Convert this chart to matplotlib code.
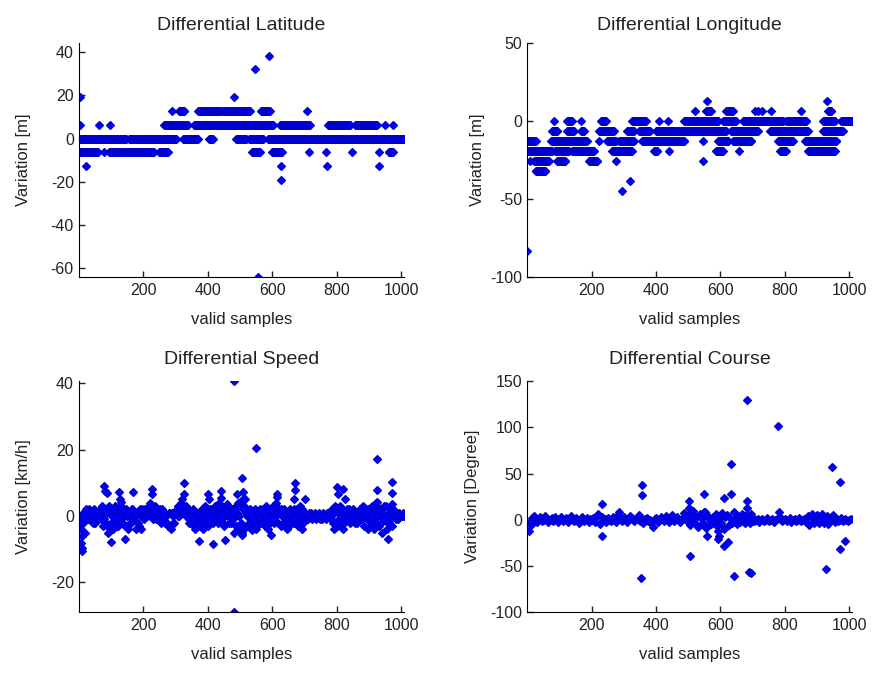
import numpy as np
import matplotlib
matplotlib.use('Agg')
import matplotlib.pyplot as plt

plt.rcParams['font.family'] = ['Liberation Sans', 'DejaVu Sans']
plt.rcParams['axes.unicode_minus'] = False

# --- latitude: quantised levels [m] and the sample spans sitting on each level
lat_levels = [38.4, 32.0, 19.2, 12.8, 6.4, 0.0, -6.4, -12.8, -19.2, -64.0]
lat_spans = [
    [(591, 591)],
    [(547, 547)],
    [(3, 3), (482, 482)],
    [(290, 290), (311, 327), (368, 440), (448, 531), (564, 593), (707, 707)],
    [(3, 3), (63, 63), (96, 96), (265, 337), (358, 603), (624, 717), (774, 842),
     (857, 924), (950, 950), (976, 976)],
    [(1, 146), (156, 301), (322, 368), (404, 415), (487, 520), (528, 572), (588, 1009)],
    [(1, 58), (78, 78), (94, 130), (135, 233), (249, 275), (536, 562), (598, 629),
     (715, 715), (767, 767), (847, 847), (930, 930), (961, 976)],
    [(21, 21), (626, 626), (769, 769), (930, 930)],
    [(626, 626)],
    [(557, 557)],
]

# --- longitude
lon_levels = [12.8, 6.4, 0.0, -6.4, -12.8, -19.2, -25.6, -32.0, -38.4, -44.8, -83.2]
lon_spans = [
    [(559, 559), (931, 931)],
    [(521, 521), (557, 572), (619, 640), (707, 707), (717, 717), (728, 728),
     (758, 758), (852, 852), (935, 945)],
    [(83, 83), (125, 140), (166, 166), (228, 244), (326, 368), (409, 409), (437, 437),
     (487, 593), (608, 650), (671, 795), (805, 867), (919, 955), (976, 1009)],
    [(78, 94), (125, 145), (166, 176), (223, 270), (311, 332), (347, 383), (399, 619),
     (634, 717), (753, 872), (919, 981)],
    [(1, 26), (73, 187), (223, 223), (249, 275), (285, 332), (357, 487), (546, 546),
     (593, 624), (640, 696), (779, 826), (862, 960)],
    [(1, 78), (88, 130), (140, 207), (264, 326), (394, 404), (440, 440), (588, 608),
     (658, 658), (784, 805), (872, 955)],
    [(10, 10), (21, 68), (93, 119), (192, 218), (275, 275), (546, 546)],
    [(26, 57)],
    [(319, 319)],
    [(295, 295)],
    [(1, 1)],
]

# --- speed [km/h]: values read at every 5th sample (two interleaved reads),
#     plus the stray points
band_xa = np.arange(1, 1010, 5)
band_xb = np.arange(3, 1010, 5)
speed_band_a = [
    0, -4, -2, 1, -1, 1, 2, -1, 0, 1, -2, 1, 0, 2, 3, -1, 1, -3, -5, 2,
    2, -4, 3, 0, -3, 1, 3, -2, 0, 2, -4, 1, -2, 2, -1, -4, 1, -3, 0, 2,
    1, 2, 0, 3, 4, 2, -1, 3, 1, 0, 2, -1, 1, -2, 0, -3, 1, -4, 0, -2,
    1, 3, 0, 4, 5, 2, 3, 0, -2, 1, 0, -3, -4, 1, -2, 0, 2, -4, 3, 1,
    -3, 2, 0, -2, 3, 1, -2, 4, 0, 2, -3, 1, 3, -2, 0, 2, -5, 3, 1, -4,
    4, -5, 3, 5, -3, 1, 2, -2, 0, 2, -4, 1, -2, 0, 2, -3, 3, -4, 1, 2,
    3, -2, 4, 1, 2, -3, 0, 2, -1, 1, -3, 2, 0, -2, 1, 2, -3, 3, 0, -2,
    1, 0, -1, 0, 1, 0, 0, -1, 0, 1, 0, -1, 0, 0, 1, 0, -1, 2, -4, 3,
    -3, 2, 3, -2, -4, 1, 2, 0, -2, 1, 2, -2, 0, 1, -1, 2, 3, -3, 1, -4,
    2, -2, 3, -4, 4, 1, -3, 2, -5, 3, 0, -4, 2, 1, -3, 2, 0, 1, -1, 0,
    0, 1,
]
speed_band_b = [
    -2, -6, 1, -1, 2, -1, 0, 1, -2, 2, 0, -1, 1, -1, -3, 2, -2, 1, 3, -2,
    0, 2, -1, -3, 2, -1, 0, 2, -3, 0, 1, -2, 2, -1, 0, 1, -2, 2, -4, 0,
    -1, 0, 2, 1, 3, 0, 2, -1, 0, 1, -2, 2, 0, 1, -2, 1, -3, 1, -2, 1,
    2, 0, 3, 2, 3, 1, 0, 2, -1, -2, 2, -1, 0, -3, 1, -2, -1, 1, -2, 0,
    1, -1, 2, 0, -1, 2, 3, -1, 1, -2, 0, 2, 0, 1, -2, -1, 2, -3, 4, 0,
    -2, 2, -4, 1, 0, -2, 0, 1, -1, -3, 1, -1, 2, -2, 0, 1, -1, 2, -2, 0,
    -1, 1, 0, -2, 1, 2, -2, 0, 1, -2, 1, 0, -1, 2, -2, 0, 1, -1, 2, 1,
    0, 0, 1, 0, -1, 0, 1, 0, 0, -1, 0, 1, 0, -1, 0, 1, 0, -2, 1, -2,
    1, -1, 0, 2, -2, 0, -1, 2, 0, -1, 0, 1, -2, 0, 2, -1, 0, 1, -1, 2,
    -1, 1, -1, 2, -2, 0, 2, -2, 1, -1, 3, -2, 0, -1, 1, 0, -1, 0, 1, 0,
    0, 0,
]
speed_out_x = [6, 8, 10, 20, 77, 80, 88, 99, 125, 127, 130, 143, 168, 228, 228,
               327, 327, 371, 401, 404, 417, 440, 440, 452, 461, 482, 482, 490,
               505, 505, 510, 510, 536, 551, 596, 614, 614, 645, 666, 671, 671,
               691, 702, 800, 805, 821, 826, 924, 924, 924, 960, 971, 971, 971]
speed_out_y = [-8, -9.5, -10.5, -5, 9.2, 7.7, 7, -7.8, 7.2, 5.2, 4.2, -7, 7.3, 8.2, 6.7,
               10, 6.7, -7.5, 6.7, 5.2, -8.4, 7.4, 5.4, -7.3, 3.7, 40.7, -29, 6.6,
               11.4, -5.8, 7.2, 5.2, -4.3, 20.5, -5.6, 6.7, 5.7, -4, 5, 10, 8,
               -3.8, 5, 8.7, 6.7, 8.2, 5.2, 17.2, 8, 4.2, -7, 10.4, 7, 3.7]

# --- course [degree]
course_band = [
    -3, -12, -6, 2, 4, 0, -2, 1, 3, -1, 0, 4, 1, -2, 0, 2, -1, 3, 0, -2,
    1, 3, -1, 0, 2, -2, 1, 4, 0, -1, 2, 0, -3, 1, 3, -1, 0, 2, -2, 1,
    0, 2, -2, 4, 6, -5, 3, 0, 1, -2, 2, 0, -1, 3, 0, -2, 5, 8, 2, -1,
    3, 0, -2, 1, 4, 2, -1, 0, 2, 5, -1, 0, -3, 1, 2, -1, 0, -4, -8, 1,
    2, -2, 0, 3, 1, -1, 4, 0, -2, 2, 5, -1, 1, 3, 0, -2, 1, 7, 3, -1,
    5, -6, 2, 9, -4, 3, -8, 6, 2, -3, 8, -9, 4, 1, -5, 3, -2, 6, -7, 2,
    -4, 7, -10, 3, 5, -6, 2, -3, 8, 1, -5, 4, -2, 6, 0, -3, 5, 2, -4, 6,
    2, -1, 0, 1, -2, 0, 1, -1, 0, 2, -1, 0, 1, -2, 0, 1, 8, 3, -1, 0,
    1, -1, 0, 2, -2, 0, 1, -1, 0, 2, -1, 0, 1, -2, 4, -6, 3, 6, -3, 1,
    5, -4, 2, 6, -3, 1, 4, -5, 0, 3, 5, -2, 1, -1, 0, 2, -1, 1, 0, -1,
    0, 1,
]
course_out_x = [233, 233, 357, 357, 355, 504, 504, 505, 549, 549, 559, 593, 596, 593,
                612, 612, 624, 633, 633, 643, 683, 683, 683, 689, 695, 778, 927,
                947, 971, 971, 987]
course_out_y = [16.9, -18, 37.5, 26.7, -63, 20.5, 12.2, -39, 27.8, 7.9, -18, -12, -18, -21,
                23.4, -28.2, -23.8, 60.2, 27.8, -61.3, 129.5, 20.5, 12.6, -56, -57, 101.7, -52.7,
                56.6, 41.1, -31.8, -22.8]


def expand(levels, spans):
    xs, ys = [], []
    for level, runs in zip(levels, spans):
        for a, b in runs:
            pts = list(range(a, b + 1, 3))
            if pts[-1] != b:
                pts.append(b)
            xs += pts
            ys += [level] * len(pts)
    return xs, ys


lat_x, lat_y = expand(lat_levels, lat_spans)
lon_x, lon_y = expand(lon_levels, lon_spans)

panels = [
    ('Differential Latitude', 'Variation [m]', [lat_x], [lat_y],
     (-64, 44), [-60, -40, -20, 0, 20, 40]),
    ('Differential Longitude', 'Variation [m]', [lon_x], [lon_y],
     (-100, 50), [-100, -50, 0, 50]),
    ('Differential Speed', 'Variation [km/h]',
     [band_xa, band_xb, speed_out_x], [speed_band_a, speed_band_b, speed_out_y],
     (-29, 40.7), [-20, 0, 20, 40]),
    ('Differential Course', 'Variation [Degree]',
     [band_xa, course_out_x], [course_band, course_out_y],
     (-100, 150), [-100, -50, 0, 50, 100, 150]),
]

positions = [
    [0.0908, 0.5884, 0.3714, 0.347],
    [0.6035, 0.5884, 0.3713, 0.347],
    [0.0908, 0.0902, 0.3714, 0.3437],
    [0.6035, 0.0902, 0.3713, 0.3437],
]
ylabel_x = [-0.150, -0.130, -0.150, -0.145]

fig = plt.figure(figsize=(8.74, 6.73), dpi=100)

for i, (title, ylab, xs, ys, ylim, yticks) in enumerate(panels):
    ax = fig.add_axes(positions[i])
    for x, y in zip(xs, ys):
        ax.plot(x, y, linestyle='none', marker='D', markersize=4.4,
                color='#0000ff', markeredgecolor='#0000cc', markeredgewidth=0.9)
    ax.set_xlim(1, 1009)
    ax.set_ylim(*ylim)
    ax.set_xticks([200, 400, 600, 800, 1000])
    ax.set_yticks(yticks)
    ax.spines['top'].set_visible(False)
    ax.spines['right'].set_visible(False)
    ax.tick_params(direction='in', length=4, width=1, labelsize=11.5, pad=4,
                   colors='#222222')
    ax.set_title(title, fontsize=14, pad=10 if i < 2 else 12, color='#222222')
    ax.set_xlabel('valid samples', fontsize=12, color='#222222')
    ax.set_ylabel(ylab, fontsize=12, color='#222222')
    ax.xaxis.set_label_coords(0.5, -0.15)
    ax.yaxis.set_label_coords(ylabel_x[i], 0.5)

fig.savefig('out.png', dpi=100)
